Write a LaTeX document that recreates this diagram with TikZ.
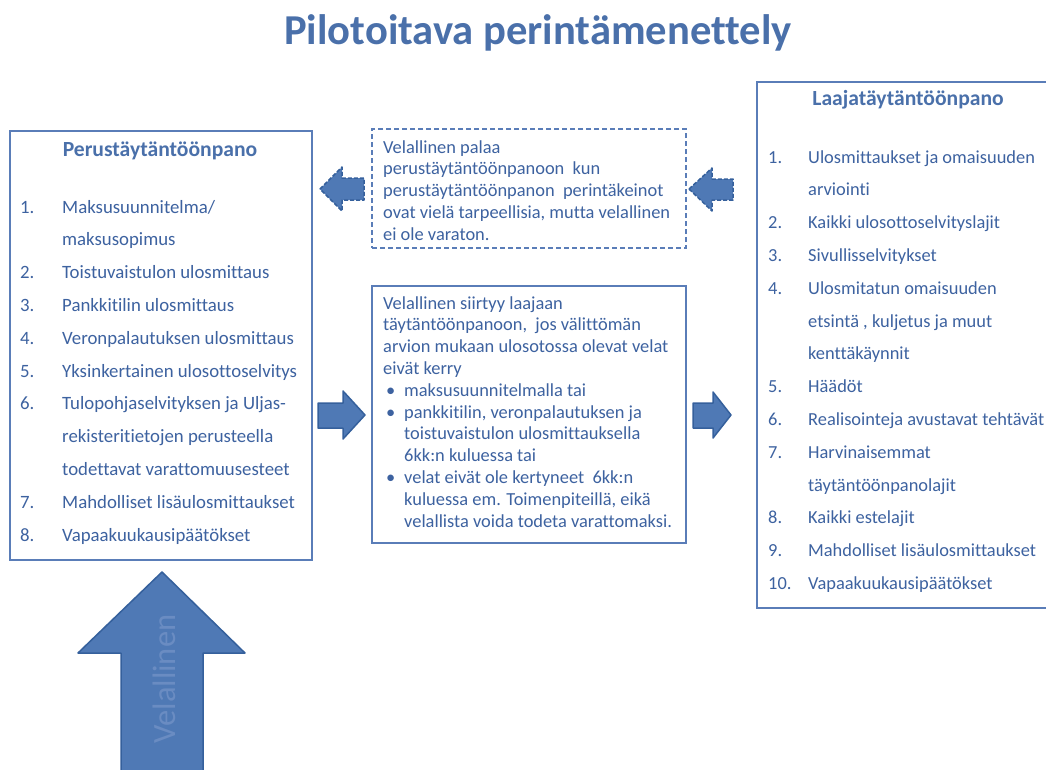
\documentclass[tikz,border=0pt]{standalone}
\usepackage{fontspec}
\setmainfont[Ligatures=NoCommon]{Carlito}
\usepackage{array}
\definecolor{txt}{HTML}{3D62A0}
\definecolor{ttl}{HTML}{4A70AA}
\definecolor{frame}{HTML}{5A7DB8}
\definecolor{afill}{HTML}{4F79B5}
\definecolor{aline}{HTML}{35609C}
\definecolor{vtext}{HTML}{6A8CC2}
\begin{document}
\begin{tikzpicture}[x=1pt,y=-1pt,
  panel/.style={draw=frame, line width=2pt, fill=white, inner sep=0pt, anchor=north west},
  dpanel/.style={panel, dashed, dash pattern=on 5pt off 3pt},
  listtext/.style={text=txt, inner sep=0pt, anchor=base west, align=left,
     font=\fontsize{18.8}{32.8}\selectfont},
  rlisttext/.style={listtext, font=\fontsize{18.4}{32.8}\selectfont},
  midtext/.style={text=txt, inner sep=0pt, anchor=base west, align=left,
     font=\fontsize{18.4}{21.8}\selectfont},
  heading/.style={text=ttl, inner sep=0pt, anchor=base, font=\fontsize{21.6}{25}\selectfont\bfseries},
  blockarrow/.style={fill=afill, draw=aline, line width=1.5pt, line join=round},
  dasharrow/.style={blockarrow, dash pattern=on 4pt off 2pt}
]
\useasboundingbox (0,0) rectangle (1046,769);

% title
\node[text=ttl, inner sep=0pt, anchor=base, font=\fontsize{42.6}{50}\selectfont\bfseries] (title) at (538,44) {Pilotoitava perintämenettely};

% panels
\node[panel, minimum width=302, minimum height=429] (perus) at (9,130) {};
\node[dpanel, minimum width=314, minimum height=119] (palaa) at (371,128) {};
\node[panel, minimum width=314, minimum height=257] (siirtyy) at (371,285) {};
\node[panel, minimum width=310, minimum height=526] (laaja) at (756,81) {};

% left panel
\node[heading] (perush) at (160,156) {Perustäytäntöönpano};
\node[listtext] (perusl) at (20,213) {\begin{tabular}[t]{@{}p{42pt}@{}l@{}}
1. & Maksusuunnitelma/\\
   & maksusopimus\\
2. & Toistuvaistulon ulosmittaus\\
3. & Pankkitilin ulosmittaus\\
4. & Veronpalautuksen ulosmittaus\\
5. & Yksinkertainen ulosottoselvitys\\
6. & Tulopohjaselvityksen ja Uljas-\\
   & rekisteritietojen perusteella\\
   & todettavat varattomuusesteet\\
7. & Mahdolliset lisäulosmittaukset\\
8. & Vapaakuukausipäätökset
\end{tabular}};

% right panel
\node[heading] (laajah) at (908,105) {Laajatäytäntöönpano};
\node[rlisttext] (laajal) at (768,163) {\begin{tabular}[t]{@{}p{40pt}@{}l@{}}
1. & Ulosmittaukset ja omaisuuden\\
   & arviointi\\
2. & Kaikki ulosottoselvityslajit\\
3. & Sivullisselvitykset\\
4. & Ulosmitatun omaisuuden\\
   & etsintä , kuljetus ja muut\\
   & kenttäkäynnit\\
5. & Häädöt\\
6. & Realisointeja avustavat tehtävät\\
7. & Harvinaisemmat\\
   & täytäntöönpanolajit\\
8. & Kaikki estelajit\\
9. & Mahdolliset lisäulosmittaukset\\
10. & Vapaakuukausipäätökset
\end{tabular}};

% dashed middle panel
\node[midtext] (palaat) at (383,153) {\begin{tabular}[t]{@{}l@{}}
Velallinen palaa\\
perustäytäntöönpanoon\ \ kun\\
perustäytäntöönpanon\ \ perintäkeinot\\
ovat vielä tarpeellisia, mutta velallinen\\
ei ole varaton.
\end{tabular}};

% solid middle panel
\node[midtext] (siirtyyt) at (383,309) {\begin{tabular}[t]{@{}p{21pt}@{}l@{}}
\multicolumn{2}{@{}l@{}}{Velallinen siirtyy laajaan}\\
\multicolumn{2}{@{}l@{}}{täytäntöönpanoon,\ \ jos välittömän}\\
\multicolumn{2}{@{}l@{}}{arvion\ mukaan ulosotossa olevat velat}\\
\multicolumn{2}{@{}l@{}}{eivät kerry}\\
\hspace{3pt}\textbullet & maksusuunnitelmalla tai\\
\hspace{3pt}\textbullet & pankkitilin, veronpalautuksen\ ja\\
  & toistuvaistulon ulosmittauksella\\
  & 6kk:n\ kuluessa tai\\
\hspace{3pt}\textbullet & velat eivät ole kertyneet\ \ 6kk:n\\
  & kuluessa em. Toimenpiteillä, eikä\\
  & velallista voida todeta varattomaksi.
\end{tabular}};

% dashed left-pointing arrows
\draw[dasharrow] (320,189) -- (342,167) -- (342,178) -- (364,178) -- (364,200) -- (342,200) -- (342,211) -- cycle;
\draw[dasharrow] (689,189) -- (712,168) -- (712,179) -- (733,179) -- (733,200) -- (712,200) -- (712,211) -- cycle;

% solid right-pointing arrows
\draw[blockarrow] (318,403) -- (343,403) -- (343,391) -- (365,415) -- (343,439) -- (343,428) -- (318,428) -- cycle;
\draw[blockarrow] (693,403) -- (713,403) -- (713,392) -- (731,415) -- (713,438) -- (713,428) -- (693,428) -- cycle;

% big up arrow
\draw[blockarrow] (162,572) -- (245,653) -- (203,653) -- (203,775) -- (121,775) -- (121,653) -- (78,653) -- cycle;
\node[text=vtext, rotate=90, inner sep=0pt, font=\fontsize{32.5}{36}\selectfont] (vel) at (164,679) {Velallinen};
\end{tikzpicture}
\end{document}
